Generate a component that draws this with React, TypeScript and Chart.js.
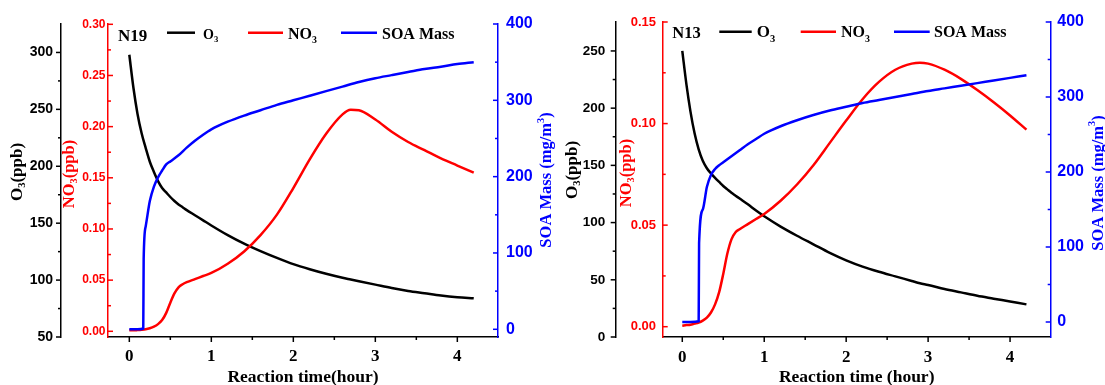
import React, { useEffect, useRef } from 'react';
import { Chart, registerables } from 'chart.js';

Chart.register(...registerables);

// ---------------- Data: panel N19 ----------------
const n19Time = [0, 0.05, 0.1, 0.15, 0.2, 0.25, 0.3, 0.35, 0.4, 0.45, 0.5, 0.55, 0.6, 0.65, 0.7, 0.8, 0.9, 1.0, 1.2, 1.4, 1.6, 1.8, 2.0, 2.2, 2.4, 2.6, 2.7, 2.8, 3.0, 3.2, 3.4, 3.6, 3.8, 4.0, 4.2];
const n19O3 = [298, 269, 246, 229, 216, 204, 195, 187, 181, 177, 173, 169.5, 166.5, 164, 161.5, 157, 152.5, 148, 139.5, 132, 125.5, 119.5, 114, 109.5, 105.5, 102, 100.5, 99, 96, 93, 90.5, 88.5, 86.5, 85, 84];
const n19NO3 = [0.001, 0.001, 0.0012, 0.0015, 0.002, 0.003, 0.0045, 0.007, 0.011, 0.018, 0.028, 0.037, 0.043, 0.046, 0.048, 0.051, 0.054, 0.057, 0.066, 0.078, 0.094, 0.114, 0.14, 0.168, 0.193, 0.212, 0.2165, 0.216, 0.207, 0.195, 0.185, 0.177, 0.169, 0.162, 0.155];
const n19SoaTime = [0, 0.1, 0.17, 0.175, 0.2, 0.25, 0.3, 0.35, 0.4, 0.45, 0.5, 0.6, 0.7, 0.8, 0.9, 1.0, 1.2, 1.4, 1.6, 1.8, 2.0, 2.2, 2.4, 2.6, 2.8, 3.0, 3.2, 3.4, 3.6, 3.8, 4.0, 4.2];
const n19Soa = [0, 0, 1, 92, 135, 168, 187, 199, 208, 216, 220, 228, 238, 247, 255, 262, 272, 280, 287, 294, 300, 306, 312, 318, 324, 329, 333, 337, 341, 344, 347.5, 350];

// ---------------- Data: panel N13 ----------------
const n13Time = [0, 0.05, 0.1, 0.15, 0.2, 0.25, 0.3, 0.35, 0.4, 0.45, 0.5, 0.55, 0.6, 0.65, 0.7, 0.8, 0.9, 1.0, 1.2, 1.4, 1.6, 1.8, 2.0, 2.2, 2.4, 2.6, 2.8, 2.9, 3.0, 3.2, 3.4, 3.6, 3.8, 4.0, 4.2];
const n13O3 = [250, 221, 197, 178, 164, 154, 147.5, 143, 139, 135.5, 132, 129, 126, 123.5, 121, 116, 110.5, 105.5, 96.5, 88.5, 81, 73.5, 67, 61.5, 57, 53, 49, 47, 45.5, 42, 39, 36, 33.5, 31, 28.5];
const n13NO3 = [0.0005, 0.0008, 0.001, 0.0015, 0.002, 0.003, 0.0045, 0.007, 0.011, 0.017, 0.026, 0.036, 0.043, 0.0465, 0.048, 0.0505, 0.053, 0.0555, 0.062, 0.07, 0.0795, 0.0905, 0.1015, 0.112, 0.1205, 0.1265, 0.1295, 0.13, 0.1295, 0.1265, 0.122, 0.1165, 0.1105, 0.104, 0.097];
const n13SoaTime = [0, 0.1, 0.2, 0.205, 0.25, 0.3, 0.35, 0.4, 0.45, 0.5, 0.6, 0.7, 0.8, 0.9, 1.0, 1.2, 1.4, 1.6, 1.8, 2.0, 2.2, 2.4, 2.6, 2.8, 3.0, 3.2, 3.4, 3.6, 3.8, 4.0, 4.2];
const n13Soa = [0, 0, 1, 105, 150, 180, 196, 204, 209, 213, 221, 229, 237, 244, 251, 261, 269, 276, 282, 287, 292, 296, 300, 304, 308, 311.5, 315, 318.5, 322, 325.5, 329];

// ---------------- Tick values ----------------
const xTicks = [0, 1, 2, 3, 4];
const xMinor = [0.5, 1.5, 2.5, 3.5];
const n19O3Ticks = [50, 100, 150, 200, 250, 300];
const n19O3Minor = [75, 125, 175, 225, 275];
const n19NO3Ticks = [0, 0.05, 0.1, 0.15, 0.2, 0.25, 0.3];
const n19NO3Minor = [0.025, 0.075, 0.125, 0.175, 0.225, 0.275];
const n13O3Ticks = [0, 50, 100, 150, 200, 250];
const n13O3Minor = [25, 75, 125, 175, 225];
const n13NO3Ticks = [0, 0.05, 0.1, 0.15];
const n13NO3Minor = [0.025, 0.075, 0.125];
const soaTicks = [0, 100, 200, 300, 400];
const soaMinor = [50, 150, 250, 350];

const SERIF = '"Liberation Serif", "Times New Roman", serif';
const SANS = '"Liberation Sans", Arial, sans-serif';
const CANVAS_H = 392;

type Run = { t: string; s?: 'sub' | 'sup' };

function drawRuns(ctx: any, runs: Run[], x: number, y: number, size: number, color: string, align: 'left' | 'center', baseline: string) {
  const sub = size * 0.62;
  const widths = runs.map((r) => {
    ctx.font = `bold ${r.s ? sub : size}px ${SERIF}`;
    return ctx.measureText(r.t).width;
  });
  const total = widths.reduce((a, b) => a + b, 0);
  let cx = align === 'center' ? x - total / 2 : x;
  ctx.fillStyle = color;
  ctx.textAlign = 'left';
  ctx.textBaseline = baseline;
  runs.forEach((r, i) => {
    ctx.font = `bold ${r.s ? sub : size}px ${SERIF}`;
    const dy = r.s === 'sub' ? size * 0.28 : r.s === 'sup' ? -size * 0.36 : 0;
    ctx.fillText(r.t, cx, y + dy);
    cx += widths[i];
  });
}

const decorPlugin = {
  id: 'decor',
  afterDraw(chart: any, _args: any, opts: any) {
    const ctx = chart.ctx;
    ctx.save();
    // tick marks (major and minor)
    for (const spec of opts.ticks) {
      const scale = chart.scales[spec.id];
      const edge = spec.edge === 'right' ? scale.right : spec.edge === 'left' ? scale.left : scale.top;
      ctx.strokeStyle = spec.color;
      ctx.lineWidth = 1.5;
      const mark = (v: number, len: number) => {
        if (v < scale.min - 1e-9 || v > scale.max + 1e-9) return;
        const p = scale.getPixelForValue(v);
        ctx.beginPath();
        if (spec.horizontal) {
          ctx.moveTo(p, edge);
          ctx.lineTo(p, edge + spec.dir * len);
        } else {
          ctx.moveTo(edge, p);
          ctx.lineTo(edge + spec.dir * len, p);
        }
        ctx.stroke();
      };
      spec.major.forEach((v: number) => mark(v, 5));
      spec.minor.forEach((v: number) => mark(v, 3));
    }
    // rotated y-axis titles
    for (const t of opts.titles) {
      ctx.save();
      ctx.translate(t.x, t.y);
      ctx.rotate(-Math.PI / 2);
      drawRuns(ctx, t.runs, 0, 0, t.size, t.color, 'center', 'middle');
      ctx.restore();
    }
    // in-plot legend
    const lg = opts.legend;
    drawRuns(ctx, [{ t: lg.name }], lg.nameX, lg.nameY, lg.nameSize, '#000', 'left', 'alphabetic');
    for (const it of lg.items) {
      ctx.strokeStyle = it.color;
      ctx.lineWidth = 2.5;
      ctx.beginPath();
      ctx.moveTo(it.x0, lg.lineY);
      ctx.lineTo(it.x1, lg.lineY);
      ctx.stroke();
      drawRuns(ctx, it.runs, it.tx, lg.textY, it.size, '#000', 'left', 'alphabetic');
    }
    ctx.restore();
  },
};

const toXY = (ts: number[], vs: number[]) => ts.map((t, i) => ({ x: t, y: vs[i] }));

const panels: any[] = [
  {
    key: 'N19', left: 0, width: 560, padTop: 24,
    time: n19Time, o3: n19O3, no3: n19NO3, soaTime: n19SoaTime, soa: n19Soa,
    xMin: -0.26, xMax: 4.496, xTitle: 'Reaction time(hour)', xPad: 9,
    o3Min: 50, o3Max: 325, o3Ticks: n19O3Ticks, o3Minor: n19O3Minor,
    no3Min: -0.00557, no3Max: 0.3003, no3Ticks: n19NO3Ticks, no3Minor: n19NO3Minor,
    soaMin: -10.1, soaMax: 400,
    wO3: 61, wNO3: 47, wSOA: 62,
    padO3: 8, padNO3: 2.5, padSOA: 8,
    fO3: 14, fNO3: 12, fSOA: 16,
    titles: [
      { x: 18, y: 172, size: 17, color: '#000', runs: [{ t: 'O' }, { t: '3', s: 'sub' }, { t: '(ppb)' }] },
      { x: 70, y: 174, size: 16.5, color: '#ff0000', runs: [{ t: 'NO' }, { t: '3', s: 'sub' }, { t: '(ppb)' }] },
      { x: 547, y: 180, size: 16.5, color: '#0000ff', runs: [{ t: 'SOA Mass (mg/m' }, { t: '3', s: 'sup' }, { t: ')' }] },
    ],
    legend: {
      name: 'N19', nameX: 118, nameY: 40.7, nameSize: 17, lineY: 32.7, textY: 38.5,
      items: [
        { x0: 167, x1: 195, tx: 203, size: 14, color: '#000', runs: [{ t: 'O' }, { t: '3', s: 'sub' }] },
        { x0: 248, x1: 283, tx: 288, size: 16, color: '#ff0000', runs: [{ t: 'NO' }, { t: '3', s: 'sub' }] },
        { x0: 341, x1: 377, tx: 382, size: 16, color: '#0000ff', runs: [{ t: 'SOA Mass' }] },
      ],
    },
  },
  {
    key: 'N13', left: 560, width: 550, padTop: 22,
    time: n13Time, o3: n13O3, no3: n13NO3, soaTime: n13SoaTime, soa: n13Soa,
    xMin: -0.239, xMax: 4.496, xTitle: 'Reaction time (hour)', xPad: 10,
    o3Min: 0, o3Max: 275.3, o3Ticks: n13O3Ticks, o3Minor: n13O3Minor,
    no3Min: -0.00507, no3Max: 0.15, no3Ticks: n13NO3Ticks, no3Minor: n13NO3Minor,
    soaMin: -20, soaMax: 400,
    wO3: 55.7, wNO3: 47, wSOA: 59.3,
    padO3: 10.5, padNO3: 6.7, padSOA: 6.6,
    fO3: 13.5, fNO3: 13, fSOA: 16,
    titles: [
      { x: 13, y: 170, size: 17, color: '#000', runs: [{ t: 'O' }, { t: '3', s: 'sub' }, { t: '(ppb)' }] },
      { x: 66.7, y: 173, size: 16.5, color: '#ff0000', runs: [{ t: 'NO' }, { t: '3', s: 'sub' }, { t: '(ppb)' }] },
      { x: 538.3, y: 183, size: 16.5, color: '#0000ff', runs: [{ t: 'SOA Mass (mg/m' }, { t: '3', s: 'sup' }, { t: ')' }] },
    ],
    legend: {
      name: 'N13', nameX: 112.3, nameY: 38.3, nameSize: 16.5, lineY: 31.7, textY: 37.3,
      items: [
        { x0: 159.3, x1: 191.7, tx: 196.7, size: 17, color: '#000', runs: [{ t: 'O' }, { t: '3', s: 'sub' }] },
        { x0: 240.7, x1: 276, tx: 281, size: 16, color: '#ff0000', runs: [{ t: 'NO' }, { t: '3', s: 'sub' }] },
        { x0: 334, x1: 369.7, tx: 374, size: 16, color: '#0000ff', runs: [{ t: 'SOA Mass' }] },
      ],
    },
  },
];

function buildConfig(p: any): any {
  const sans = (size: number) => ({ family: SANS, weight: 'bold', size });
  const setTicks = (vals: number[]) => (s: any) => {
    s.ticks = vals.map((v) => ({ value: v }));
  };
  const hiddenGrid = { display: true, drawOnChartArea: false, drawTicks: false };
  const line = (color: string, order: number) => ({
    borderColor: color, backgroundColor: color, borderWidth: 2.5, pointRadius: 0, fill: false,
    tension: 0.4, cubicInterpolationMode: 'monotone', order,
  });
  return {
    type: 'line',
    data: {
      datasets: [
        { label: 'O3', data: toXY(p.time, p.o3), yAxisID: 'yO3', ...line('#000000', 2) },
        { label: 'NO3', data: toXY(p.time, p.no3), yAxisID: 'yNO3', ...line('#ff0000', 1) },
        { label: 'SOA Mass', data: toXY(p.soaTime, p.soa), yAxisID: 'ySOA', ...line('#0000ff', 0) },
      ],
    },
    options: {
      responsive: false,
      animation: false,
      devicePixelRatio: 1,
      events: [],
      layout: { padding: { left: 0, right: 0, top: p.padTop, bottom: 0 } },
      plugins: {
        legend: { display: false },
        tooltip: { enabled: false },
        decor: {
          ticks: [
            { id: 'x', edge: 'top', dir: 1, horizontal: true, color: '#000', major: xTicks, minor: xMinor },
            { id: 'yO3', edge: 'right', dir: -1, color: '#000', major: p.o3Ticks, minor: p.o3Minor },
            { id: 'yNO3', edge: 'right', dir: 1, color: '#ff0000', major: p.no3Ticks, minor: p.no3Minor },
            { id: 'ySOA', edge: 'left', dir: -1, color: '#0000ff', major: soaTicks, minor: soaMinor },
          ],
          titles: p.titles,
          legend: p.legend,
        },
      },
      scales: {
        x: {
          type: 'linear', position: 'bottom', min: p.xMin, max: p.xMax,
          afterBuildTicks: setTicks(xTicks),
          afterFit: (s: any) => { s.height = CANVAS_H - 337; },
          grid: hiddenGrid,
          border: { display: true, color: '#000', width: 1.5 },
          ticks: { color: '#000', padding: p.xPad, maxRotation: 0, autoSkip: false, font: { family: SERIF, weight: 'bold', size: 17 } },
          title: { display: true, text: p.xTitle, color: '#000', font: { family: SERIF, weight: 'bold', size: 17.5, lineHeight: 1 }, padding: { top: 0, bottom: 6 } },
        },
        yO3: {
          type: 'linear', position: 'left', weight: 2, min: p.o3Min, max: p.o3Max,
          afterBuildTicks: setTicks(p.o3Ticks),
          afterFit: (s: any) => { s.width = p.wO3; },
          grid: hiddenGrid,
          border: { display: true, color: '#000', width: 1.5 },
          ticks: { color: '#000', padding: p.padO3, autoSkip: false, font: sans(p.fO3), callback: (v: any) => String(v) },
        },
        yNO3: {
          type: 'linear', position: 'left', weight: 1, min: p.no3Min, max: p.no3Max,
          afterBuildTicks: setTicks(p.no3Ticks),
          afterFit: (s: any) => { s.width = p.wNO3; },
          grid: hiddenGrid,
          border: { display: true, color: '#ff0000', width: 1.5 },
          ticks: { color: '#ff0000', padding: p.padNO3, autoSkip: false, font: sans(p.fNO3), callback: (v: any) => Number(v).toFixed(2) },
        },
        ySOA: {
          type: 'linear', position: 'right', min: p.soaMin, max: p.soaMax,
          afterBuildTicks: setTicks(soaTicks),
          afterFit: (s: any) => { s.width = p.wSOA; },
          grid: hiddenGrid,
          border: { display: true, color: '#0000ff', width: 1.5 },
          ticks: { color: '#0000ff', padding: p.padSOA, autoSkip: false, font: sans(p.fSOA), callback: (v: any) => String(v) },
        },
      },
    },
    plugins: [decorPlugin],
  };
}

function Panel({ p }: { p: any }) {
  const ref = useRef<HTMLCanvasElement>(null);
  useEffect(() => {
    const chart = new Chart(ref.current as HTMLCanvasElement, buildConfig(p));
    return () => chart.destroy();
  }, [p]);
  return (
    <canvas
      ref={ref}
      width={p.width}
      height={CANVAS_H}
      style={{ position: 'absolute', left: p.left, top: 0, width: p.width, height: CANVAS_H, display: 'block' }}
    />
  );
}

export default function App() {
  return (
    <div style={{ position: 'fixed', left: 0, top: 0, width: 1105, height: 385, overflow: 'hidden', background: '#ffffff' }}>
      {panels.map((p) => (
        <Panel key={p.key} p={p} />
      ))}
    </div>
  );
}
